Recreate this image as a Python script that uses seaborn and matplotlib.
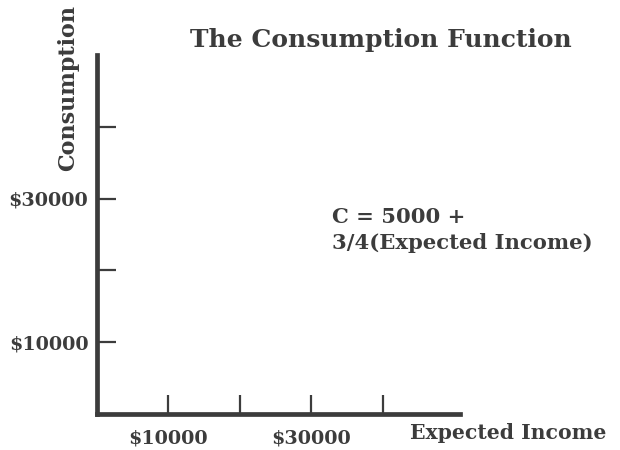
"""
The Consumption Function - recreated axes figure
"""

import matplotlib
matplotlib.use('Agg')
import matplotlib.pyplot as plt
import seaborn as sns

# Dados do gráfico
x_ticks = [10000, 20000, 30000, 40000]
x_tick_labels = ['$10000', '', '$30000', '']
y_ticks = [10000, 20000, 30000, 40000]
y_tick_labels = ['$10000', '', '$30000', '']
x_limits = [0, 50800]
y_limits = [0, 50000]
intercept = 5000
mpc = '3/4'

ink = '#3c3c3c'

sns.set_theme(style='ticks')
plt.rcParams['font.family'] = ['DejaVu Serif']
plt.rcParams['text.color'] = ink

fig = plt.figure(figsize=(6.2, 4.5), dpi=100)
ax = fig.add_axes([0.156, 0.08, 0.586, 0.798])

ax.set_xlim(x_limits)
ax.set_ylim(y_limits)
ax.set_xticks(x_ticks)
ax.set_xticklabels(x_tick_labels)
ax.set_yticks(y_ticks)
ax.set_yticklabels(y_tick_labels)

sns.despine(ax=ax)
for side in ['left', 'bottom']:
    ax.spines[side].set_linewidth(3.4)
    ax.spines[side].set_color(ink)
    ax.spines[side].set_capstyle('projecting')

ax.tick_params(axis='both', direction='in', length=14, width=1.6,
               color=ink, labelcolor=ink, labelsize=13.8)
ax.tick_params(axis='x', pad=11)
ax.tick_params(axis='y', pad=6)
for lbl in ax.get_xticklabels() + ax.get_yticklabels():
    lbl.set_fontweight('bold')

# Textos
fig.text(0.615, 0.91, 'The Consumption Function', ha='center', va='center',
         fontsize=18, fontweight='bold', color=ink)
fig.text(0.11, 0.805, 'Consumption', ha='center', va='center', rotation=90,
         fontsize=16, fontweight='bold', color=ink)
fig.text(0.661, 0.038, 'Expected Income', ha='left', va='center',
         fontsize=14.7, fontweight='bold', color=ink)
fig.text(0.535, 0.489, f'C = {intercept} +\n{mpc}(Expected Income)',
         ha='left', va='center',
         fontsize=15.2, fontweight='bold', color=ink, linespacing=1.4)

fig.savefig('out.png', dpi=100, facecolor='white')
